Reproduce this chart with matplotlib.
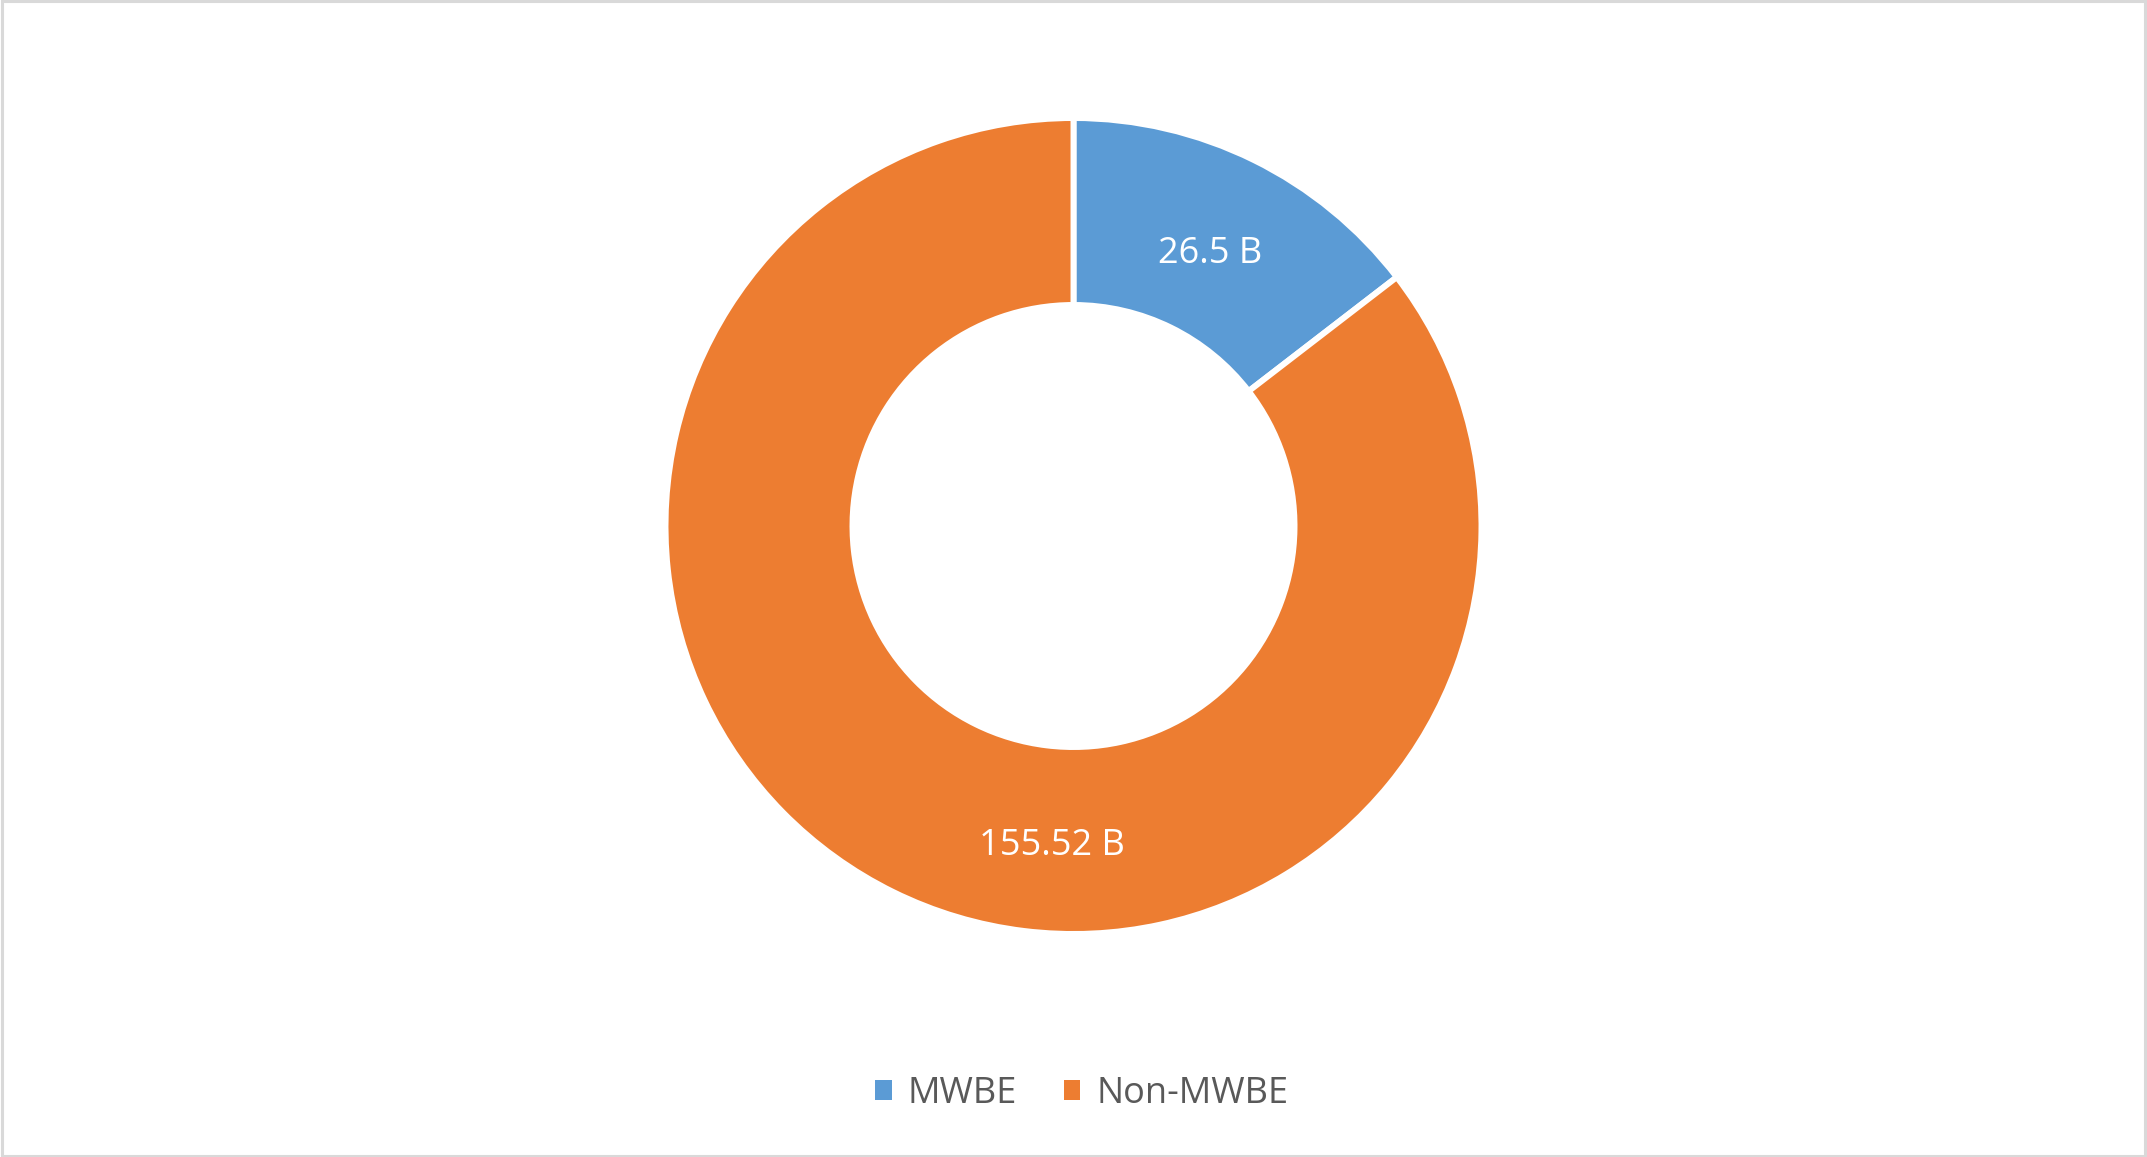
import matplotlib
matplotlib.use("Agg")
import matplotlib.pyplot as plt
from matplotlib.patches import Rectangle

categories = ["MWBE", "Non-MWBE"]
values = [26.5, 155.52]
labels = ["26.5 B", "155.52 B"]
colors = ["#5B9BD5", "#ED7D31"]

W, H = 2147, 1157
fig = plt.figure(figsize=(W / 100, H / 100), dpi=100)
ax = fig.add_axes([0, 0, 1, 1])
ax.set_xlim(0, W)
ax.set_ylim(0, H)
ax.set_aspect("equal")
ax.axis("off")

# donut centre / radius in pixels
cx, cy = 1073.5, H - 526
r_out = 408
width = 187

wedges, _ = ax.pie(values, colors=colors, startangle=90, counterclock=False,
                   center=(cx, cy), radius=r_out,
                   wedgeprops=dict(width=width, edgecolor="white", linewidth=4.3))
ax.set_xlim(0, W)
ax.set_ylim(0, H)

# data labels
label_pos = [(1210, H - 254), (1052, H - 846)]
for (x, y), txt in zip(label_pos, labels):
    ax.text(x, y, txt, ha="center", va="center", color="white",
            fontsize=26, family="Open Sans")

leg = ax.legend(wedges, categories, loc="center", bbox_to_anchor=(1082 / W, 1 - 1094 / H),
                ncol=2, frameon=False, handlelength=0.45, handleheight=0.45,
                handletextpad=0.45, columnspacing=1.3,
                prop={"family": "Open Sans", "size": 26})
for t in leg.get_texts():
    t.set_color("#595959")
for h in leg.legend_handles:
    h.set_linewidth(0)

fig.patches.append(Rectangle((0.0007, 0.001), 0.9986, 0.998, transform=fig.transFigure,
                             fill=False, edgecolor="#D9D9D9", linewidth=2.2))

fig.savefig("out.png", dpi=100, facecolor="white")
